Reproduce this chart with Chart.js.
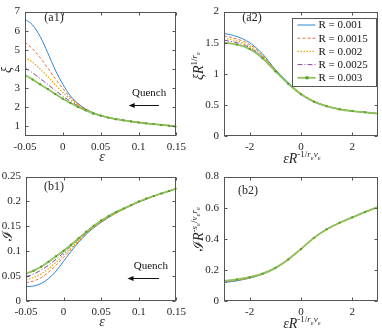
<!DOCTYPE html>
<html lang="en">
<head>
<meta charset="UTF-8">
<title>Quench scaling</title>
<script src="https://cdn.jsdelivr.net/npm/chart.js"></script>
<style>
  body { margin: 0; background: #fff; }
  #wrap { position: relative; width: 382px; height: 330px; font-family: "Liberation Serif", serif; color: #262626; overflow: hidden; }
  canvas { position: absolute; }
  .t { position: absolute; white-space: nowrap; transform: translate(-50%, -50%); font-size: 14px; line-height: 1; }
  .rot { transform: translate(-50%, -50%) rotate(-90deg); }
  .p { font-size: 12px; }
  sup { font-size: 9px; line-height: 0; }
  sup sub { font-size: 7px; }
</style>
</head>
<body>
<div id="wrap">
  <canvas id="a1" width="191" height="165" style="left:0;top:0"></canvas>
  <canvas id="a2" width="191" height="165" style="left:191px;top:0"></canvas>
  <canvas id="b1" width="191" height="165" style="left:0;top:165px"></canvas>
  <canvas id="b2" width="191" height="165" style="left:191px;top:165px"></canvas>

  <div class="t rot" style="left:7px;top:70px"><i>ξ</i></div>
  <div class="t" style="left:102px;top:157px"><i>ε</i></div>
  <div class="t rot" style="left:199px;top:66px"><i>ξR</i><sup>1/<i>r</i><sub>ε</sub></sup></div>
  <div class="t" style="left:302px;top:159px"><i>εR</i><sup>-1/<i>r</i><sub>ε</sub><i>ν</i><sub>ε</sub></sup></div>
  <div class="t rot" style="left:8px;top:236px">ℐ</div>
  <div class="t" style="left:102px;top:322px"><i>ε</i></div>
  <div class="t rot" style="left:199px;top:229px">ℐ<i>R</i><sup>-<i>s</i><sub>ε</sub>/<i>ν</i><sub>ε</sub><i>r</i><sub>ε</sub></sup></div>
  <div class="t" style="left:302px;top:324px"><i>εR</i><sup>-1/<i>r</i><sub>ε</sub><i>ν</i><sub>ε</sub></sup></div>

  <div class="t p" style="left:54px;top:17px">(a1)</div>
  <div class="t p" style="left:252px;top:17px">(a2)</div>
  <div class="t p" style="left:54px;top:186px">(b1)</div>
  <div class="t p" style="left:248px;top:190px">(b2)</div>
</div>

<script>
// series names
const seriesLabels = ['R = 0.001', 'R = 0.0015', 'R = 0.002', 'R = 0.0025', 'R = 0.003'];

// x values
const eps = [-0.05, -0.04, -0.03, -0.02, -0.01, 0, 0.01, 0.02, 0.03, 0.04, 0.05,
             0.06, 0.07, 0.08, 0.09, 0.1, 0.11, 0.12, 0.13, 0.14, 0.15];
const scaledEps = [-3, -2.5, -2, -1.5, -1, -0.5, 0, 0.5, 1, 1.5, 2, 2.5, 3];

// (a1) xi vs epsilon
const xi001  = [6.6, 6.3, 5.7, 4.85, 3.95, 3.2, 2.6, 2.2, 1.92, 1.72, 1.58, 1.47, 1.39, 1.32, 1.26, 1.21, 1.16, 1.12, 1.08, 1.04, 0.99];
const xi0015 = [5.4, 5.05, 4.6, 4.05, 3.5, 2.98, 2.52, 2.16, 1.9, 1.71, 1.57, 1.47, 1.39, 1.32, 1.26, 1.21, 1.16, 1.12, 1.08, 1.04, 0.99];
const xi002  = [4.6, 4.35, 4.0, 3.6, 3.18, 2.78, 2.43, 2.13, 1.88, 1.7, 1.57, 1.47, 1.39, 1.32, 1.26, 1.21, 1.16, 1.12, 1.08, 1.04, 0.99];
const xi0025 = [4.05, 3.8, 3.5, 3.2, 2.88, 2.58, 2.31, 2.08, 1.87, 1.69, 1.56, 1.46, 1.38, 1.32, 1.26, 1.21, 1.16, 1.12, 1.08, 1.04, 0.99];
const xi003  = [3.68, 3.45, 3.2, 2.95, 2.69, 2.45, 2.22, 2.02, 1.84, 1.68, 1.56, 1.46, 1.38, 1.32, 1.26, 1.21, 1.16, 1.12, 1.08, 1.04, 0.99];

// (a2) scaled xi
const xiS001  = [1.65, 1.6, 1.5, 1.32, 1.07, 0.86, 0.68, 0.56, 0.48, 0.43, 0.4, 0.38, 0.36];
const xiS0015 = [1.61, 1.56, 1.47, 1.3, 1.06, 0.85, 0.68, 0.56, 0.48, 0.43, 0.4, 0.38, 0.36];
const xiS002  = [1.57, 1.53, 1.44, 1.28, 1.05, 0.85, 0.68, 0.56, 0.48, 0.43, 0.4, 0.38, 0.36];
const xiS0025 = [1.54, 1.5, 1.42, 1.27, 1.05, 0.85, 0.67, 0.55, 0.48, 0.43, 0.4, 0.38, 0.36];
const xiS003  = [1.5, 1.47, 1.4, 1.25, 1.04, 0.84, 0.67, 0.55, 0.48, 0.43, 0.4, 0.38, 0.36];

// (b1) I vs epsilon
const I001  = [0.029, 0.03, 0.035, 0.045, 0.06, 0.08, 0.1, 0.118, 0.134, 0.147, 0.158, 0.168, 0.177, 0.185, 0.192, 0.199, 0.205, 0.211, 0.216, 0.221, 0.226];
const I0015 = [0.037, 0.04, 0.047, 0.058, 0.072, 0.088, 0.104, 0.12, 0.135, 0.148, 0.159, 0.168, 0.177, 0.185, 0.192, 0.199, 0.205, 0.211, 0.216, 0.221, 0.226];
const I002  = [0.043, 0.047, 0.054, 0.065, 0.078, 0.093, 0.107, 0.122, 0.136, 0.149, 0.16, 0.169, 0.177, 0.185, 0.192, 0.199, 0.205, 0.211, 0.216, 0.221, 0.226];
const I0025 = [0.049, 0.054, 0.062, 0.072, 0.084, 0.097, 0.111, 0.124, 0.137, 0.15, 0.161, 0.17, 0.178, 0.186, 0.193, 0.199, 0.205, 0.211, 0.216, 0.221, 0.226];
const I003  = [0.055, 0.061, 0.069, 0.079, 0.09, 0.101, 0.113, 0.126, 0.139, 0.151, 0.162, 0.171, 0.179, 0.186, 0.193, 0.2, 0.206, 0.211, 0.216, 0.221, 0.226];

// (b2) scaled I
const IS001  = [0.118, 0.13, 0.147, 0.172, 0.21, 0.265, 0.333, 0.405, 0.46, 0.502, 0.537, 0.572, 0.604];
const IS0015 = [0.122, 0.133, 0.149, 0.173, 0.211, 0.266, 0.334, 0.405, 0.46, 0.502, 0.537, 0.572, 0.604];
const IS002  = [0.125, 0.135, 0.15, 0.174, 0.212, 0.266, 0.334, 0.405, 0.46, 0.502, 0.537, 0.572, 0.604];
const IS0025 = [0.127, 0.137, 0.151, 0.175, 0.212, 0.267, 0.335, 0.406, 0.461, 0.503, 0.538, 0.573, 0.605];
const IS003  = [0.13, 0.139, 0.153, 0.176, 0.213, 0.267, 0.335, 0.406, 0.461, 0.503, 0.538, 0.573, 0.605];

// tick labels
const epsTicks = [-0.05, 0, 0.05, 0.1, 0.15];
const scaledTicks = [-2, 0, 2];
const xiTicks = [1, 2, 3, 4, 5, 6, 7];
const xiSTicks = [0, 0.5, 1, 1.5, 2];
const ITicks = [0, 0.05, 0.1, 0.15, 0.2, 0.25];
const ISTicks = [0, 0.2, 0.4, 0.6, 0.8];

const lineColors = ['#2c86d0', '#e0703f', '#e8ad1c', '#8e44a3', '#8cc45a'];
const lineDash = [[], [3, 2], [1.5, 1.5], [5, 2, 1, 2], []];
const FONT = '"Liberation Serif", serif';

function makeSets(xs, series) {
  return series.map((ys, k) => ({
    label: seriesLabels[k],
    data: xs.map((x, i) => ({ x: x, y: ys[i] })),
    borderColor: lineColors[k],
    borderDash: lineDash[k],
    borderWidth: k === 4 ? 1.8 : (k === 2 ? 1.3 : 1),
    pointRadius: k === 4 ? 1.4 : 0,
    pointStyle: 'rect',
    pointBackgroundColor: '#5b9a2a',
    pointBorderWidth: 0,
    cubicInterpolationMode: 'monotone',
    order: 4 - k,
    fill: false
  }));
}

function axis(min, max, tickVals, fitSize, isX) {
  return {
    type: 'linear',
    min: min, max: max,
    afterBuildTicks: s => { s.ticks = tickVals.map(v => ({ value: v })); },
    afterFit: s => { if (isX) s.height = fitSize; else s.width = fitSize; },
    grid: { display: false, drawTicks: false },
    border: { display: false },
    ticks: {
      color: '#262626', font: { family: FONT, size: 11 },
      padding: 5, maxRotation: 0, autoSkip: false,
      callback: v => String(v)
    }
  };
}

// box + inward ticks like the original figure
const framePlugin = {
  id: 'frame',
  afterDatasetsDraw(chart) {
    const { ctx, chartArea: a, scales } = chart;
    const l = Math.round(a.left) + 0.5, r = Math.round(a.right) - 0.5;
    const t = Math.round(a.top) + 0.5, b = Math.round(a.bottom) - 0.5;
    ctx.save();
    ctx.strokeStyle = '#555';
    ctx.lineWidth = 1;
    ctx.strokeRect(l, t, r - l, b - t);
    ctx.beginPath();
    scales.x.ticks.forEach(tk => {
      const px = Math.round(scales.x.getPixelForValue(tk.value)) + 0.5;
      ctx.moveTo(px, b); ctx.lineTo(px, b - 3);
      ctx.moveTo(px, t); ctx.lineTo(px, t + 3);
    });
    scales.y.ticks.forEach(tk => {
      const py = Math.round(scales.y.getPixelForValue(tk.value)) + 0.5;
      ctx.moveTo(l, py); ctx.lineTo(l + 3, py);
      ctx.moveTo(r, py); ctx.lineTo(r - 3, py);
    });
    ctx.stroke();
    ctx.restore();
  }
};

// "Quench" note with arrow, placed in data units
function quenchPlugin(textX, textY, arrowFrom, arrowTo, arrowY) {
  return {
    id: 'quench',
    afterDatasetsDraw(chart) {
      const { ctx, scales: { x, y } } = chart;
      ctx.save();
      ctx.fillStyle = '#111';
      ctx.font = '11px ' + FONT;
      ctx.textAlign = 'center';
      ctx.textBaseline = 'middle';
      ctx.fillText('Quench', x.getPixelForValue(textX), y.getPixelForValue(textY));
      const x1 = x.getPixelForValue(arrowFrom), x2 = x.getPixelForValue(arrowTo);
      const py = Math.round(y.getPixelForValue(arrowY)) + 0.5;
      ctx.strokeStyle = '#111';
      ctx.lineWidth = 1;
      ctx.beginPath(); ctx.moveTo(x1, py); ctx.lineTo(x2 + 3, py); ctx.stroke();
      ctx.beginPath();
      ctx.moveTo(x2, py); ctx.lineTo(x2 + 6, py - 2.5); ctx.lineTo(x2 + 6, py + 2.5);
      ctx.closePath(); ctx.fill();
      ctx.restore();
    }
  };
}

// legend box inside (a2)
const boxLegend = {
  id: 'boxLegend',
  afterDraw(chart) {
    const { ctx, chartArea: a } = chart;
    const w = 84, h = 68;
    const left = Math.round(a.right - 2 - w) + 0.5, top = Math.round(a.top + 6) + 0.5;
    ctx.save();
    ctx.fillStyle = '#fff';
    ctx.fillRect(left, top, w, h);
    ctx.strokeStyle = '#555';
    ctx.lineWidth = 1;
    ctx.strokeRect(left, top, w, h);
    ctx.font = '11px ' + FONT;
    ctx.textBaseline = 'middle';
    chart.data.datasets.forEach((ds, i) => {
      const cy = top + 6.5 + i * 13.2;
      ctx.strokeStyle = ds.borderColor;
      ctx.lineWidth = ds.borderWidth;
      ctx.setLineDash(ds.borderDash);
      ctx.beginPath(); ctx.moveTo(left + 5, cy); ctx.lineTo(left + 23, cy); ctx.stroke();
      ctx.setLineDash([]);
      if (ds.pointRadius > 0) {
        ctx.fillStyle = ds.pointBackgroundColor;
        ctx.fillRect(left + 13, cy - 1.5, 3, 3);
      }
      ctx.fillStyle = '#111';
      ctx.fillText(ds.label, left + 26, cy + 0.5);
    });
    ctx.restore();
  }
};

function makeChart(id, xs, series, xAxis, yAxis, pad, extra) {
  new Chart(document.getElementById(id), {
    type: 'line',
    data: { datasets: makeSets(xs, series) },
    options: {
      responsive: false,
      animation: false,
      layout: { padding: pad },
      plugins: { legend: { display: false }, tooltip: { enabled: false } },
      scales: { x: xAxis, y: yAxis }
    },
    plugins: [framePlugin].concat(extra)
  });
}

makeChart('a1', eps, [xi001, xi0015, xi002, xi0025, xi003],
  axis(-0.05, 0.15, epsTicks, 29, true), axis(0.5, 7, xiTicks, 25, false),
  { top: 5, right: 11, left: 0, bottom: 0 },
  [quenchPlugin(0.114, 2.73, 0.127, 0.087, 2.13)]);

makeChart('a2', scaledEps, [xiS001, xiS0015, xiS002, xiS0025, xiS003],
  axis(-3, 3, scaledTicks, 29, true), axis(0, 2, xiSTicks, 33, false),
  { top: 6, right: 4, left: 0, bottom: 0 },
  [boxLegend]);

makeChart('b1', eps, [I001, I0015, I002, I0025, I003],
  axis(-0.05, 0.15, epsTicks, 29, true), axis(0, 0.25, ITicks, 26, false),
  { top: 7, right: 11, left: 0, bottom: 0 },
  [quenchPlugin(0.116, 0.07, 0.127, 0.085, 0.0465)]);

makeChart('b2', scaledEps, [IS001, IS0015, IS002, IS0025, IS003],
  axis(-3, 3, scaledTicks, 29, true), axis(0, 0.8, ISTicks, 33, false),
  { top: 6, right: 4, left: 0, bottom: 0 },
  []);
</script>
</body>
</html>
